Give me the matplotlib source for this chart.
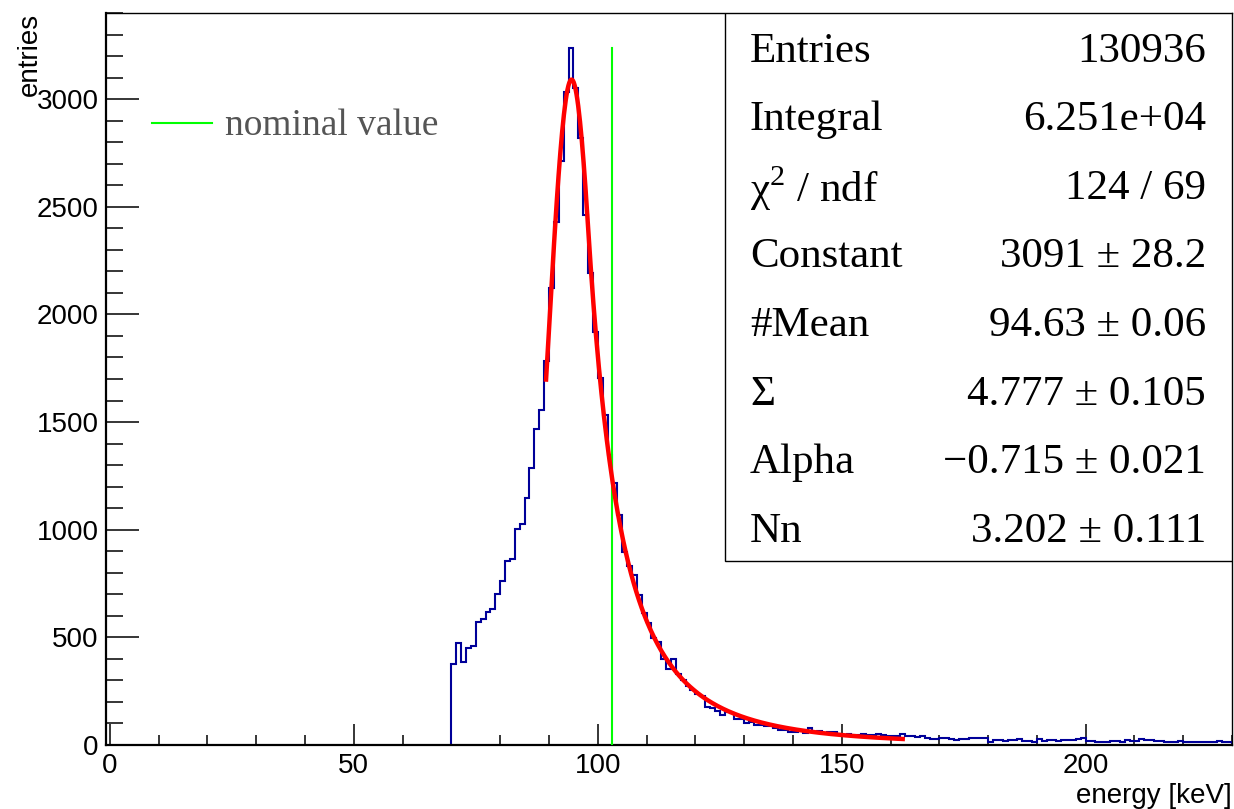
import numpy as np
import matplotlib
matplotlib.use('Agg')
import matplotlib.pyplot as plt
from matplotlib.ticker import MultipleLocator
from matplotlib.patches import Rectangle

plt.rcParams['font.family'] = ['Liberation Sans', 'DejaVu Sans']
plt.rcParams['mathtext.fontset'] = 'custom'
plt.rcParams['mathtext.rm'] = 'Liberation Serif'

# histogram, 1 keV bins starting at 70 keV
binLow = 70
binWidth = 1
counts = [376, 472, 387, 449, 461, 573, 583, 616, 630, 701,
          761, 854, 862, 1004, 1026, 1148, 1289, 1466, 1555, 1785,
          2123, 2429, 2711, 3033, 3239, 3051, 2819, 2464, 2194, 1920,
          1704, 1532, 1346, 1216, 1068, 897, 832, 789, 696, 611,
          565, 495, 480, 398, 351, 399, 328, 302, 274, 255,
          235, 228, 178, 170, 158, 139, 152, 150, 119, 120,
          104, 108, 93, 93, 90, 90, 80, 70, 70, 62,
          62, 67, 54, 80, 62, 65, 54, 59, 62, 51,
          46, 51, 46, 46, 49, 46, 45, 49, 46, 43,
          40, 43, 51, 40, 41, 37, 41, 33, 30, 30,
          33, 33, 30, 23, 30, 30, 31, 31, 33, 33,
          16, 23, 23, 19, 23, 23, 29, 19, 19, 16,
          28, 19, 23, 23, 20, 23, 23, 23, 28, 32,
          19, 19, 16, 16, 16, 19, 19, 16, 23, 19,
          19, 28, 23, 23, 19, 19, 16, 12, 12, 18,
          12, 12, 16, 16, 16, 16, 16, 18, 12, 12]

nominalValue = 103
fitRange = [89.4, 162.5]
fitConstant = 3091
fitMean = 94.63
fitSigma = 4.777
fitAlpha = -0.715
fitN = 3.202

statLabels = ['Entries', 'Integral', 'χ$^{2}$ / ndf', 'Constant', '#Mean',
              'Σ', 'Alpha', 'Nn']
statValues = ['130936', '6.251e+04', '124 / 69', '3091 ± 28.2', '94.63 ± 0.06',
              '4.777 ± 0.105', '\u22120.715 ± 0.021', '3.202 ± 0.111']

edges = binLow + binWidth * np.arange(len(counts) + 1)


def crystalBall(x):
    t = (x - fitMean) / fitSigma
    if fitAlpha < 0:
        t = -t
    a = abs(fitAlpha)
    A = (fitN / a) ** fitN * np.exp(-0.5 * a * a)
    B = fitN / a - a
    tail = A / np.abs(B - t) ** fitN
    return fitConstant * np.where(t >= -a, np.exp(-0.5 * t * t), tail)


fig = plt.figure(figsize=(12.34, 8.09), dpi=100)
ax = fig.add_axes([0.0855, 0.0791, 0.9129, 0.9048])

ax.stairs(counts, edges, color='#000099', lw=1.5, baseline=0, zorder=2)
xf = np.linspace(fitRange[0], fitRange[1], 400)
ax.plot(xf, crystalBall(xf), color='red', lw=3.2, zorder=4)
ax.plot([nominalValue, nominalValue], [0, max(counts)], color='#00ff00', lw=1.5, zorder=3)

ax.set_xlim(-0.9, 230)
ax.set_ylim(0, 3400)
ax.xaxis.set_major_locator(MultipleLocator(50))
ax.xaxis.set_minor_locator(MultipleLocator(10))
ax.yaxis.set_major_locator(MultipleLocator(500))
ax.yaxis.set_minor_locator(MultipleLocator(100))
ax.tick_params(axis='x', which='major', direction='in', length=15, width=1.1, labelsize=20, pad=6)
ax.tick_params(axis='x', which='minor', direction='in', length=7.5, width=1.1)
ax.tick_params(axis='y', which='major', direction='in', length=24, width=1.1, labelsize=20, pad=5)
ax.tick_params(axis='y', which='minor', direction='in', length=12, width=1.1)
for s in ax.spines.values():
    s.set_linewidth(1.0)
ax.spines['bottom'].set_linewidth(1.6)
ax.spines['left'].set_linewidth(1.6)

ax.text(-0.067, 1.0, 'entries', transform=ax.transAxes, rotation=90,
        ha='center', va='top', fontsize=20)
ax.text(1.0, -0.07, 'energy [keV]', transform=ax.transAxes,
        ha='right', va='center', fontsize=20)

# legend
ax.plot([0.0413, 0.0945], [0.8497, 0.8497], color='#00ff00', lw=1.5, transform=ax.transAxes)
ax.text(0.106, 0.8457, 'nominal value', transform=ax.transAxes, ha='left', va='center',
        fontsize=27, family=['Liberation Serif', 'DejaVu Serif'], color='#555555')

# stats box
ax.add_patch(Rectangle((0.55, 0.2514), 0.45, 0.7486, transform=ax.transAxes,
                       facecolor='white', edgecolor='black', lw=1.0, zorder=5))
for i in range(len(statLabels)):
    yc = (745 - (17 + 68.6 * (i + 0.5))) / 732
    ax.text(0.5721, yc, statLabels[i], transform=ax.transAxes, ha='left', va='center',
            fontsize=31, family=['Liberation Serif', 'DejaVu Serif'], zorder=6)
    ax.text(0.9769, yc, statValues[i], transform=ax.transAxes, ha='right', va='center',
            fontsize=31, family=['Liberation Serif', 'DejaVu Serif'], zorder=6)

fig.savefig('out.png', dpi=100)
